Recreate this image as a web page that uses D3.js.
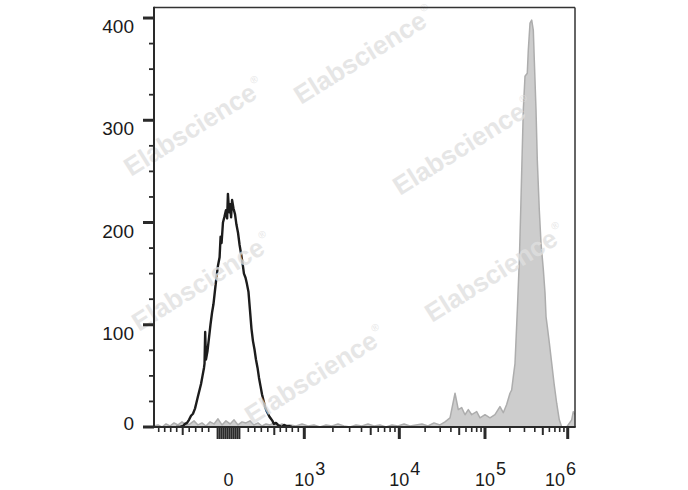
<!DOCTYPE html>
<html><head><meta charset="utf-8">
<script src="https://cdn.jsdelivr.net/npm/d3@7"></script>
<style>html,body{margin:0;padding:0;background:#fff;} svg{display:block;}</style>
</head><body><svg id="c" width="688" height="490"></svg>
<script>
// ---------- data ----------
// Control (black outline) histogram: intensity values and event counts
const blackX = [-612,-545,-495,-465,-434,-403,-372,-342,-311,-288,-265,-242,-218,-195,-172,-164,-154,-142,-119,-98,-91,-83,-76,-68,-61,-53,-45,-40,-35,-28,-20,-13,-7,-3,3,8,13,18,25,33,40,48,56,63,71,78,86,93,103,126,149,172,195,218,242,265,288,311,334,357,380,403,426,449,472,495,528,562,595,628,660,700,740,790];
const blackY = [0,0,1,3,4,7,11,13,18,24,30,36,42,50,58,62,93,66,74,88,100,112,120,134,146,158,166,186,180,200,206,212,204,228,210,218,205,222,214,208,198,190,178,170,160,150,146,140,132,114,96,84,76,66,58,48,40,32,26,20,16,13,10,8,6,3,4,2,1,0,2,1,1,0];
// Stained sample (grey filled) histogram
const grayX = [-978,-912,-845,-778,-712,-645,-578,-512,-449,-388,-326,-265,-203,-142,-93,-73,-53,-33,-13,8,28,48,68,88,126,188,249,311,372,434,495,562,628,695,762,862,962,1094,1265,1463,1692,1957,2263,2617,3027,3500,4048,4682,5414,6261,7241,8374,9686,11350,13330,15660,18390,21600,25370,29800,34150,39060,44690,48790,53450,58430,63860,69960,80000,87450,100000,114900,132000,151700,166300,182800,200500,210000,219800,230500,245900,260100,270300,280100,290500,304500,324500,334000,350200,367000,383800,394600,413800,428900,453600,475500,507200,531700,546800,567300,599900,641300,682800,736300,791000,845700,972000,1117000,1167000,1225000];
const grayY = [1,2,0,3,1,4,2,5,2,3,6,2,4,1,5,3,8,2,6,3,7,2,5,4,6,2,4,1,3,2,4,1,3,0,2,1,3,1,2,0,2,1,3,1,0,2,1,3,1,2,0,2,1,3,1,2,3,1,4,2,5,9,33,17,19,12,17,12,15,9,12,9,12,20,14,22,33,36,49,62,114,163,212,261,310,343,346,369,395,398,388,359,310,261,212,180,154,131,108,98,82,62,43,23,7,0,0,7,15,12];

// ---------- ticks ----------
const yMajorTicks = [0,100,200,300,400];
const yMinorTicks = [25,50,75,125,150,175,225,250,275,325,350,375];
const xLabelValues = [0,1e3,1e4,1e5,1e6];
const xLabelBase = ["0","10","10","10","10"];
const xLabelExp = ["","3","4","5","6"];
const xMajorTicks = [1e3,1e4,1e5,1e6];
const xMidTicks = [-500,500,5e3,5e4,5e5];
const xMinorTicks = [-900,-800,-700,-600,-400,-300,-200,-100,100,200,300,400,600,700,800,900,
  2e3,3e3,4e3,6e3,7e3,8e3,9e3,2e4,3e4,4e4,6e4,7e4,8e4,9e4,2e5,3e5,4e5,6e5,7e5,8e5,9e5];
const xZeroTicks = [-55,-45,-35,-25,-15,-5,5,15,25,35,45,55];

// ---------- layout ----------
const m = {left:154, top:7.5, right:575, bottom:427};
const svg = d3.select('#c');
const FONT = '"Liberation Sans", Arial, Helvetica, sans-serif';

// biexponential-like display: linear around zero, logarithmic above 10^3
const xNear = d3.scaleLinear().domain([-1000,-500,-100,0,100,500,1000])
  .range([-0.0031,0.0682,0.1299,0.177,0.224,0.2857,0.357]);
const xFar = d3.scaleLog().domain([1e3,1e4,1e5,1e6]).range([0.357,0.5827,0.7862,0.9827]);
const xPix = d3.scaleLinear().domain([0,1]).range([m.left, m.right]);
const x = v => xPix(v < 1000 ? xNear(v) : xFar(v));
const y = d3.scaleLinear().domain([0,410]).range([m.bottom, 7.8]);

svg.append('defs').append('clipPath').attr('id','clip')
  .append('rect').attr('x',m.left).attr('y',m.top).attr('width',m.right-m.left).attr('height',m.bottom-m.top);

const gray = grayX.map((v,i)=>[v,grayY[i]]);
const black = blackX.map((v,i)=>[v,blackY[i]]);

const plot = svg.append('g').attr('clip-path','url(#clip)');
plot.append('path').datum(gray)
  .attr('d', d3.area().x(d=>x(d[0])).y0(y(0)).y1(d=>y(d[1])))
  .attr('fill','#cdcdcd');
plot.append('path').datum(gray)
  .attr('d', d3.line().x(d=>x(d[0])).y(d=>y(d[1])))
  .attr('fill','none').attr('stroke','#adadad').attr('stroke-width',1.5).attr('stroke-linejoin','round');

// watermarks
const wm = [[131,177],[301,105],[400,196],[139,332],[252,425],[432,323]];
const wg = svg.append('g');
wm.forEach(p=>{
  const t = wg.append('text').attr('transform',`translate(${p[0]},${p[1]}) rotate(-32)`)
    .attr('font-family',FONT).attr('font-weight','bold').attr('font-size',26)
    .attr('fill','#e0e0e0').attr('opacity',0.78).text('Elabscience');
  t.append('tspan').attr('font-size',10).attr('font-weight','normal').attr('dy',-14).attr('dx',2).text('®');
});

plot.append('path').datum(black)
  .attr('d', d3.line().x(d=>x(d[0])).y(d=>y(d[1])))
  .attr('fill','none').attr('stroke','#1c1c1c').attr('stroke-width',2.4).attr('stroke-linejoin','round');

// frame
const ax = svg.append('g');
ax.append('line').attr('x1',m.left).attr('x2',m.right).attr('y1',m.top).attr('y2',m.top).attr('stroke','#333').attr('stroke-width',1.5);
ax.append('line').attr('x1',m.right).attr('x2',m.right).attr('y1',m.top).attr('y2',m.bottom).attr('stroke','#333').attr('stroke-width',1.5);
ax.append('line').attr('x1',m.left).attr('x2',m.left).attr('y1',m.top-0.7).attr('y2',m.bottom).attr('stroke','#2a2a2a').attr('stroke-width',2);
ax.append('line').attr('x1',m.left).attr('x2',m.right+0.7).attr('y1',m.bottom).attr('y2',m.bottom).attr('stroke','#2a2a2a').attr('stroke-width',2.2);

// y ticks
ax.selectAll('.ymaj').data(yMajorTicks).join('line')
  .attr('x1',m.left-11).attr('x2',m.left).attr('y1',d=>y(d)).attr('y2',d=>y(d))
  .attr('stroke','#2a2a2a').attr('stroke-width',3);
ax.selectAll('.ymin').data(yMinorTicks).join('line')
  .attr('x1',m.left-5).attr('x2',m.left).attr('y1',d=>y(d)).attr('y2',d=>y(d))
  .attr('stroke','#2a2a2a').attr('stroke-width',1.8);
ax.selectAll('.ylab').data(yMajorTicks).join('text')
  .attr('x',134).attr('y',d=>Math.min(y(d)+15, 430))
  .attr('text-anchor','end').attr('font-family',FONT).attr('font-size',19).attr('fill','#1a1a1a')
  .text(d=>d);

// x ticks
function xt(vals, len, w){
  ax.append('g').selectAll('line').data(vals).join('line')
    .attr('x1',d=>x(d)).attr('x2',d=>x(d)).attr('y1',m.bottom).attr('y2',m.bottom+len)
    .attr('stroke','#2a2a2a').attr('stroke-width',w);
}
xt(xMinorTicks,5,1.6);
xt(xMidTicks,8,2);
xt(xMajorTicks,12,3);
xt(xZeroTicks,12,2);

// x labels
xLabelValues.forEach((v,i)=>{
  const g = ax.append('g');
  const b = g.append('text').attr('x',x(v)).attr('y',486).attr('text-anchor','middle')
    .attr('font-family',FONT).attr('font-size',18).attr('fill','#1a1a1a').text(xLabelBase[i]);
  if(xLabelExp[i]){
    const bb = b.node().getBBox();
    g.append('text').attr('x',bb.x+bb.width+1).attr('y',475)
      .attr('font-family',FONT).attr('font-size',18).attr('fill','#1a1a1a').text(xLabelExp[i]);
    const gb = g.node().getBBox();
    if(gb.x+gb.width > m.right+1) g.attr('transform',`translate(${m.right+1-(gb.x+gb.width)},0)`);
  }
});
</script>
</body></html>
